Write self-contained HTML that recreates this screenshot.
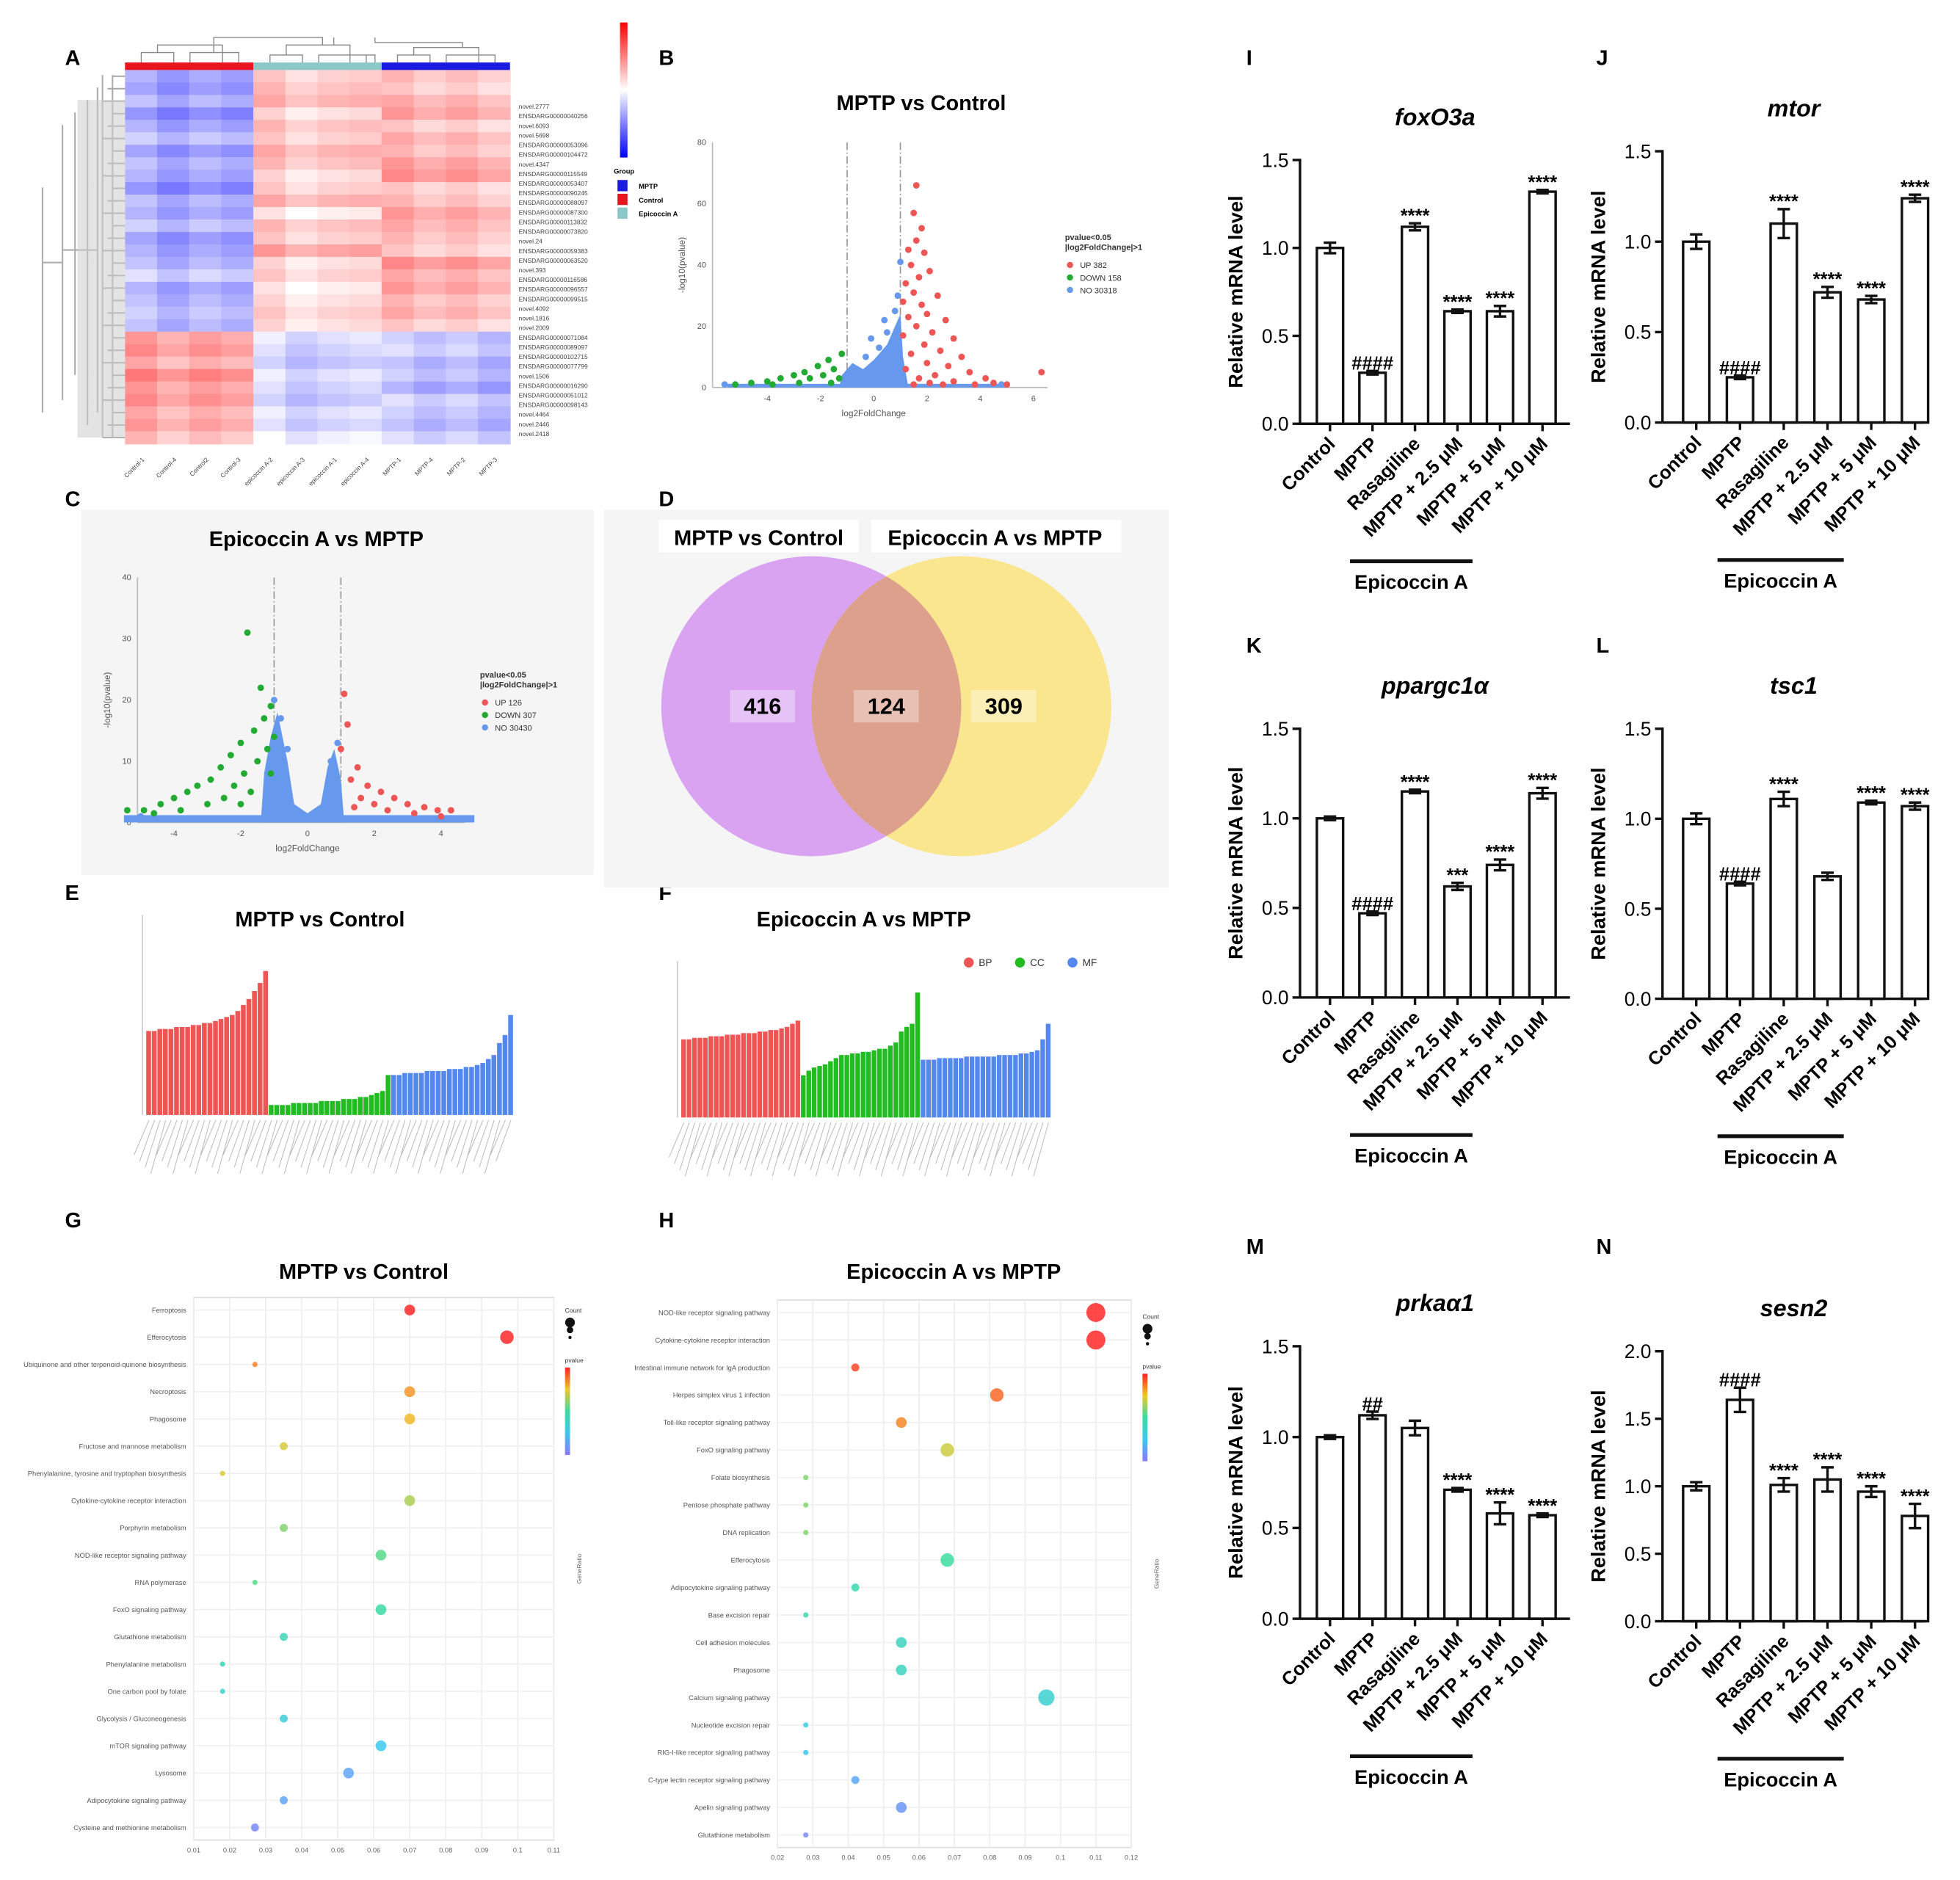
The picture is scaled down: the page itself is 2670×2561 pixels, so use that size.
<!DOCTYPE html>
<html><head><meta charset="utf-8"><style>
html,body{margin:0;padding:0;background:#fff}
svg{display:block;font-family:"Liberation Sans",Arial,sans-serif}
</style></head><body>
<svg id="fig" width="2670" height="2561" viewBox="0 0 1568 1504" preserveAspectRatio="none" xmlns="http://www.w3.org/2000/svg"></svg>
<script>
// ---------- bar chart data ----------
const barCats = ["Control","MPTP","Rasagiline","MPTP + 2.5 μM","MPTP + 5 μM","MPTP + 10 μM"];
const foxVals = [1.0,0.29,1.12,0.64,0.64,1.32];
const foxErr = [0.03,0.01,0.02,0.01,0.03,0.01];
const foxSig = ["","####","****","****","****","****"];
const mtorVals = [1.0,0.25,1.10,0.72,0.68,1.24];
const mtorErr = [0.04,0.01,0.08,0.03,0.02,0.02];
const mtorSig = ["","####","****","****","****","****"];
const pparVals = [1.0,0.47,1.15,0.62,0.74,1.14];
const pparErr = [0.01,0.01,0.01,0.02,0.03,0.03];
const pparSig = ["","####","****","***","****","****"];
const tscVals = [1.0,0.64,1.11,0.68,1.09,1.07];
const tscErr = [0.03,0.01,0.04,0.02,0.01,0.02];
const tscSig = ["","####","****","","****","****"];
const prkVals = [1.0,1.12,1.05,0.71,0.58,0.57];
const prkErr = [0.01,0.02,0.04,0.01,0.06,0.01];
const prkSig = ["","##","","****","****","****"];
const sesVals = [1.0,1.64,1.01,1.05,0.96,0.78];
const sesErr = [0.03,0.09,0.05,0.09,0.04,0.09];
const sesSig = ["","####","****","****","****","****"];
const ticks15 = ["0.0","0.5","1.0","1.5"];
const ticks20 = ["0.0","0.5","1.0","1.5","2.0"];

// ---------- volcano data ----------
const bUp = [[1.6,66],[1.5,57],[1.8,52],[1.6,48],[1.3,45],[1.9,44],[1.4,40],[2.1,38],[1.7,36],[1.2,34],[1.5,31],[2.4,30],[1.1,28],[1.8,27],[2.0,24],[1.3,23],[2.7,22],[1.6,20],[2.2,18],[1.1,17],[3.0,16],[1.9,14],[2.5,12],[1.4,11],[3.3,10],[2.0,8],[2.8,7],[1.2,6],[3.6,5],[2.3,4],[4.2,3],[1.7,3],[3.0,2],[4.5,1.5],[2.6,1],[1.5,1],[5.0,1],[6.3,5],[3.8,1],[2.1,1.5]];
const bDown = [[-1.2,11],[-1.7,9],[-2.1,7],[-1.5,6],[-2.6,5],[-3.0,4],[-1.9,4],[-3.5,3],[-2.4,3],[-4.0,2],[-1.3,3],[-4.6,1.5],[-2.8,1.5],[-1.6,1.5],[-3.8,1],[-5.2,1]];
const bNo = [[-5.6,1],[-0.1,16],[0.4,22],[0.8,25],[0.5,18],[-0.3,10],[0.2,13],[0.9,30],[4.8,1],[1.0,41]];
const cUp = [[1.1,21],[1.2,16],[1.0,12],[1.5,9],[1.3,7],[1.8,6],[2.2,5],[1.6,4],[2.6,4],[3.0,3],[2.0,3],[3.5,2.5],[3.9,2],[4.3,2],[2.4,2],[1.4,2.5],[3.2,1.5],[4.0,1]];
const cDown = [[-1.8,31],[-1.4,22],[-1.1,19],[-1.3,17],[-1.6,15],[-1.0,14],[-2.0,13],[-1.2,12],[-2.3,11],[-1.5,10],[-2.6,9],[-1.9,8],[-2.9,7],[-1.1,8],[-3.3,6],[-2.2,6],[-3.6,5],[-2.5,4],[-4.0,4],[-1.7,5],[-4.4,3],[-3.0,3],[-4.9,2],[-3.8,2],[-5.4,2],[-2.0,3],[-4.6,1.5]];
const cNo = [[-1.0,20],[-0.8,17],[0.9,13],[-5.0,1],[-0.6,12],[0.7,10]];

// ---------- GO bar data ----------
const eBP = [0.42,0.42,0.43,0.43,0.43,0.44,0.44,0.44,0.45,0.45,0.46,0.46,0.47,0.48,0.49,0.5,0.52,0.55,0.58,0.62,0.66,0.72];
const eCC = [0.05,0.05,0.05,0.05,0.06,0.06,0.06,0.06,0.06,0.07,0.07,0.07,0.07,0.08,0.08,0.08,0.09,0.09,0.1,0.11,0.12,0.2];
const eMF = [0.2,0.2,0.21,0.21,0.21,0.21,0.22,0.22,0.22,0.22,0.23,0.23,0.23,0.24,0.24,0.25,0.26,0.28,0.3,0.36,0.4,0.5];
const fBP = [0.5,0.5,0.51,0.51,0.51,0.52,0.52,0.52,0.53,0.53,0.53,0.54,0.54,0.54,0.55,0.55,0.56,0.56,0.57,0.58,0.6,0.62];
const fCC = [0.27,0.3,0.32,0.33,0.34,0.36,0.38,0.4,0.4,0.41,0.41,0.42,0.42,0.43,0.44,0.44,0.46,0.48,0.55,0.58,0.6,0.8];
const fMF = [0.37,0.37,0.37,0.38,0.38,0.38,0.38,0.38,0.39,0.39,0.39,0.39,0.39,0.39,0.4,0.4,0.4,0.4,0.41,0.41,0.42,0.43,0.5,0.6];

// ---------- KEGG dot data ----------
const gPaths = ["Ferroptosis","Efferocytosis","Ubiquinone and other terpenoid-quinone biosynthesis","Necroptosis","Phagosome","Fructose and mannose metabolism","Phenylalanine, tyrosine and tryptophan biosynthesis","Cytokine-cytokine receptor interaction","Porphyrin metabolism","NOD-like receptor signaling pathway","RNA polymerase","FoxO signaling pathway","Glutathione metabolism","Phenylalanine metabolism","One carbon pool by folate","Glycolysis / Gluconeogenesis","mTOR signaling pathway","Lysosome","Adipocytokine signaling pathway","Cysteine and methionine metabolism"];
const gRatio = [0.07,0.097,0.027,0.07,0.07,0.035,0.018,0.07,0.035,0.062,0.027,0.062,0.035,0.018,0.018,0.035,0.062,0.053,0.035,0.027];
const gCount = [3,4,1,3,3,2,1,3,2,3,1,3,2,1,1,2,3,3,2,2];
const gP = [0.0,0.0,0.005,0.006,0.008,0.01,0.01,0.012,0.014,0.016,0.016,0.018,0.02,0.02,0.022,0.024,0.026,0.03,0.03,0.033];
const hPaths = ["NOD-like receptor signaling pathway","Cytokine-cytokine receptor interaction","Intestinal immune network for IgA production","Herpes simplex virus 1 infection","Toll-like receptor signaling pathway","FoxO signaling pathway","Folate biosynthesis","Pentose phosphate pathway","DNA replication","Efferocytosis","Adipocytokine signaling pathway","Base excision repair","Cell adhesion molecules","Phagosome","Calcium signaling pathway","Nucleotide excision repair","RIG-I-like receptor signaling pathway","C-type lectin receptor signaling pathway","Apelin signaling pathway","Glutathione metabolism"];
const hRatio = [0.11,0.11,0.042,0.082,0.055,0.068,0.028,0.028,0.028,0.068,0.042,0.028,0.055,0.055,0.096,0.028,0.028,0.042,0.055,0.028];
const hCount = [6,6,2,4,3,4,1,1,1,4,2,1,3,3,5,1,1,2,3,1];
const hP = [0.0,0.0,0.01,0.02,0.03,0.06,0.08,0.08,0.08,0.1,0.11,0.11,0.12,0.12,0.13,0.14,0.15,0.17,0.18,0.19];

// ---------- heatmap data ----------
const hmCtrl = [-0.6,-0.7,-0.5,-0.8,-0.6,-0.4,-0.7,-0.5,-0.6,-0.8,-0.5,-0.6,-0.4,-0.7,-0.6,-0.5,-0.3,-0.6,-0.5,-0.4,-0.5,0.6,0.7,0.5,0.8,0.6,0.7,0.5,0.6,0.4];
const hmEpi = [0.3,0.4,0.5,0.2,0.4,0.3,0.5,0.4,0.2,0.3,0.5,0.1,0.4,0.3,0.6,0.2,0.3,0.1,0.2,0.3,0.2,-0.2,-0.3,-0.4,-0.2,-0.3,-0.4,-0.2,-0.3,-0.1];
const hmMptp = [0.4,0.3,0.5,0.6,0.3,0.5,0.4,0.6,0.7,0.3,0.4,0.6,0.5,0.4,0.3,0.7,0.5,0.6,0.4,0.5,0.3,-0.4,-0.3,-0.5,-0.4,-0.6,-0.3,-0.4,-0.5,-0.3];
const hmColJitter = [0.1,-0.1,0.05,-0.05,0.1,-0.1,0.0,0.05,0.1,-0.05,0.05,-0.1];
const hmColNames = ["Control-1","Control-4","Control2","Control-3","epicoccin A-2","epicoccin A-3","epicoccin A-1","epicoccin A-4","MPTP-1","MPTP-4","MPTP-2","MPTP-3"];
const hmRowLabels = ["novel.2777","ENSDARG00000040256","novel.6093","novel.5698","ENSDARG00000053096","ENSDARG00000104472","novel.4347","ENSDARG00000115549","ENSDARG00000053407","ENSDARG00000090245","ENSDARG00000088097","ENSDARG00000087300","ENSDARG00000113832","ENSDARG00000073820","novel.24","ENSDARG00000059383","ENSDARG00000063520","novel.393","ENSDARG00000116586","ENSDARG00000096557","ENSDARG00000099515","novel.4092","novel.1816","novel.2009","ENSDARG00000071084","ENSDARG00000089097","ENSDARG00000102715","ENSDARG00000077799","novel.1506","ENSDARG00000016290","ENSDARG00000051012","ENSDARG00000098143","novel.4464","novel.2446","novel.2418"];

const NS = "http://www.w3.org/2000/svg";
const svg = document.getElementById('fig');
function mk(tag, attrs, parent) {
  const el = document.createElementNS(NS, tag);
  for (const k in attrs) el.setAttribute(k, attrs[k]);
  (parent || svg).appendChild(el);
  return el;
}
function txt(s, attrs, parent) { const t = mk('text', attrs, parent); t.textContent = s; return t; }

// panel letters
const letters = [["A",52,52],["B",527,52],["C",52,405],["D",527,405],["E",52,720],["F",527,720],["G",52,982],["H",527,982],["I",997,52],["J",1277,52],["K",997,522],["L",1277,522],["M",997,1003],["N",1277,1003]];
letters.forEach(l => {
  const el = txt(l[0], {x:l[1], y:l[2], 'font-size':17, 'font-weight':'bold'});
  
  
});

// ---------- bar charts ----------
function barChart(cfg) {
  const g = mk('g', {});
  
  
  const yScale = v => cfg.y0 - (v / cfg.maxV) * (cfg.y0 - cfg.yTop);
  const xc = i => cfg.cx0 + i * cfg.dx;
  const title = txt(cfg.title, {x:(cfg.ox + cfg.xEnd)/2, y:cfg.yTop - 28, 'text-anchor':'middle', 'font-size':19, 'font-weight':'bold', 'font-style':'italic'}, g);
  
  
  const yl = txt("Relative mRNA level", {x:0, y:0, transform:`translate(${cfg.ox-46},${(cfg.y0+cfg.yTop)/2}) rotate(-90)`, 'text-anchor':'middle', 'font-size':16, 'font-weight':'bold'}, g);
  
  
  cfg.ticks.forEach((t, i) => {
    const y = yScale(parseFloat(t));
    mk('line', {x1:cfg.ox-6, x2:cfg.ox, y1:y, y2:y, stroke:'#111', 'stroke-width':2}, g);
    const tl = txt(t, {x:cfg.ox-9, y:y+5.5, 'text-anchor':'end', 'font-size':15.5}, g);
    
    
  });
  const ya = mk('line', {x1:cfg.ox, x2:cfg.ox, y1:cfg.yTop-1, y2:cfg.y0, stroke:'#111', 'stroke-width':2}, g);
  
  
  cfg.vals.forEach((v, i) => {
    const x = xc(i), y = yScale(v), w = 21;
    const b = mk('rect', {x:x-w/2, y:y, width:w, height:cfg.y0-y, fill:'#fff', stroke:'#111', 'stroke-width':2}, g);
    
    
    const e = cfg.err[i];
    const yh = yScale(v + e), ylo = yScale(v - e);
    const eb = mk('path', {d:`M${x},${yh}V${ylo}M${x-5},${yh}H${x+5}M${x-5},${ylo}H${x+5}`, stroke:'#111', 'stroke-width':2, fill:'none'}, g);
    
    
    if (cfg.sig[i]) {
      const s = txt(cfg.sig[i], {x:x, y:yh - 1, 'text-anchor':'middle', 'font-size':15, 'font-weight':'bold'}, g);
      
      
    }
    mk('line', {x1:x, x2:x, y1:cfg.y0, y2:cfg.y0+6, stroke:'#111', 'stroke-width':2}, g);
    const xl = txt(barCats[i], {x:0, y:0, transform:`translate(${x+5},${cfg.y0+17}) rotate(-45)`, 'text-anchor':'end', 'font-size':15, 'font-weight':'bold'}, g);
    
    
  });
  const xa = mk('line', {x1:cfg.ox, x2:cfg.xEnd, y1:cfg.y0, y2:cfg.y0, stroke:'#111', 'stroke-width':2}, g);
  
  
  const br = mk('line', {x1:xc(1)-18, x2:xc(4)-22, y1:cfg.y0+110, y2:cfg.y0+110, stroke:'#111', 'stroke-width':3}, g);
  
  
  const bt = txt("Epicoccin A", {x:(xc(1)+xc(4))/2 - 20, y:cfg.y0+132, 'text-anchor':'middle', 'font-size':16, 'font-weight':'bold'}, g);
  
  
}
barChart({name:'chart-foxo3a', title:'foxO3a', ox:1040, xEnd:1256, y0:339, yTop:128, maxV:1.5, ticks:ticks15, cx0:1064, dx:34, vals:foxVals, err:foxErr, sig:foxSig});
barChart({name:'chart-mtor', title:'mtor', ox:1330, xEnd:1540, y0:338, yTop:121, maxV:1.5, ticks:ticks15, cx0:1357, dx:35, vals:mtorVals, err:mtorErr, sig:mtorSig});
barChart({name:'chart-ppargc1a', title:'ppargc1α', ox:1040, xEnd:1256, y0:798, yTop:583, maxV:1.5, ticks:ticks15, cx0:1064, dx:34, vals:pparVals, err:pparErr, sig:pparSig});
barChart({name:'chart-tsc1', title:'tsc1', ox:1330, xEnd:1540, y0:799, yTop:583, maxV:1.5, ticks:ticks15, cx0:1357, dx:35, vals:tscVals, err:tscErr, sig:tscSig});
barChart({name:'chart-prkaa1', title:'prkaα1', ox:1040, xEnd:1256, y0:1295, yTop:1077, maxV:1.5, ticks:ticks15, cx0:1064, dx:34, vals:prkVals, err:prkErr, sig:prkSig});
barChart({name:'chart-sesn2', title:'sesn2', ox:1330, xEnd:1540, y0:1297, yTop:1081, maxV:2.0, ticks:ticks20, cx0:1357, dx:35, vals:sesVals, err:sesErr, sig:sesSig});

// ---------- heatmap A ----------
(function(){
  const g = mk('g', {});
  
  
  const x0 = 100, y0 = 56, w = 308, h = 299, nC = 12, nR = hmCtrl.length;
  const cw = w / nC, rh = h / nR;
  function col(v) {
    v = Math.max(-1, Math.min(1, v));
    if (v >= 0) { const t = v; return `rgb(255,${Math.round(255 - 150*t)},${Math.round(255 - 150*t)})`; }
    const t = -v; return `rgb(${Math.round(255 - 150*t)},${Math.round(255 - 150*t)},255)`;
  }
  for (let r = 0; r < nR; r++) {
    for (let c = 0; c < nC; c++) {
      const base = c < 4 ? hmCtrl[r] : (c < 8 ? hmEpi[r] : hmMptp[r]);
      const cell = mk('rect', {x:x0 + c*cw, y:y0 + r*rh, width:cw + 0.5, height:rh + 0.5, fill:col(base + hmColJitter[c])}, g);
      
      
    }
  }
  const groupCols = ['#e8141e', '#8cc8c8', '#1a1ae0'];
  groupCols.forEach((c, i) => {
    const gb = mk('rect', {x:x0 + i*w/3, y:50, width:w/3, height:6, fill:c}, g);
    
    
  });
  const dt = mk('path', {d:'M113,50V42H139V50M126,42V36H178V50M152,50V42H191V50M171,42V30H258V36M216,50V44H242V50M229,44V36H280V50M255,50V44H293V50M267,36V30M318,50V44H344V50M331,44V38H383V50M357,50V44H396V50M370,38V34H300V30M300,50V44H280', stroke:'#888', fill:'none', 'stroke-width':0.8}, g);
  
  
  let dp = '';
  for (let r = 0; r < nR; r++) {
    const y = y0 + (r + 0.5) * rh;
    dp += `M100,${y}H${90 - (r%3)*4}`;
  }
  dp += 'M78,70V330M78,200H50M50,100V320M50,210H34M34,150V330';
  const dl = mk('path', {d:dp + 'M90,60V350M82,60V350M70,80V340M60,90V300', stroke:'#aaa', fill:'none', 'stroke-width':1.2}, g);
  
  
  mk('rect', {x:62, y:80, width:38, height:270, fill:'#ccc', opacity:0.55}, g);
  hmRowLabels.forEach((s, i) => {
    const t = txt(s, {x:415, y:87 + i*7.7, 'font-size':5, fill:'#444'}, g);
    
    
  });
  hmColNames.forEach((s, i) => {
    const t = txt(s, {x:0, y:0, transform:`translate(${x0 + (i+0.5)*cw + 3},${368}) rotate(-45)`, 'text-anchor':'end', 'font-size':5, fill:'#444'}, g);
    
    
  });
  const defs = mk('defs', {});
  const lg = mk('linearGradient', {id:'hmgrad', x1:0, y1:0, x2:0, y2:1}, defs);
  mk('stop', {offset:'0', 'stop-color':'#ff0000'}, lg);
  mk('stop', {offset:'0.5', 'stop-color':'#ffffff'}, lg);
  mk('stop', {offset:'1', 'stop-color':'#0000ff'}, lg);
  const cb = mk('rect', {x:496, y:18, width:6, height:108, fill:'url(#hmgrad)'}, g);
  
  
  txt('Group', {x:491, y:139, 'font-size':5.5, 'font-weight':'bold'}, g);
  [['MPTP','#1a1ae0'],['Control','#e8141e'],['Epicoccin A','#8cc8c8']].forEach((l, i) => {
    const r = mk('rect', {x:494, y:144 + i*11, width:8, height:9, fill:l[1]}, g);
    
    
    txt(l[0], {x:511, y:151 + i*11, 'font-size':5.5, 'font-weight':'bold'}, g);
  });
})();

// ---------- volcano plots ----------
function volcano(cfg) {
  const g = mk('g', {});
  
  
  const X = v => cfg.xz + v * cfg.xs, Y = v => cfg.y0 - v * cfg.ys;
  const t = txt(cfg.title, {x:cfg.tx, y:cfg.ty, 'text-anchor':'middle', 'font-size':17, 'font-weight':'bold'}, g);
  
  
  mk('line', {x1:cfg.xl, x2:cfg.xr, y1:cfg.y0, y2:cfg.y0, stroke:'#bbb'}, g);
  mk('line', {x1:cfg.xl, x2:cfg.xl, y1:Y(cfg.ymax), y2:cfg.y0, stroke:'#bbb'}, g);
  cfg.xt.forEach(v => txt(String(v), {x:X(v), y:cfg.y0+11, 'text-anchor':'middle', 'font-size':6.5, fill:'#555'}, g));
  cfg.yt.forEach(v => txt(String(v), {x:cfg.xl-5, y:Y(v)+2, 'text-anchor':'end', 'font-size':6.5, fill:'#555'}, g));
  txt('log2FoldChange', {x:X(0), y:cfg.y0+23, 'text-anchor':'middle', 'font-size':7, fill:'#555'}, g);
  txt('-log10(pvalue)', {x:0, y:0, transform:`translate(${cfg.xl-22},${Y(cfg.ymax/2)}) rotate(-90)`, 'text-anchor':'middle', 'font-size':7, fill:'#555'}, g);
  [-1, 1].forEach(v => mk('line', {x1:X(v), x2:X(v), y1:Y(cfg.ymax), y2:cfg.y0, stroke:'#999', 'stroke-dasharray':'6,2,1,2'}, g));
  const cl = mk('path', {d:cfg.cloud.map((p,i) => (i?'L':'M') + X(p[0]) + ',' + Y(p[1])).join('') + 'Z', fill:'#6699ee'}, g);
  
  
  mk('rect', {x:X(-5.5), y:Y(1.2), width:X(5)-X(-5.5), height:Y(0)-Y(1.2), fill:'#6699ee'}, g);
  [[cfg.no,'#6699ee','point-no'],[cfg.down,'#22aa33','point-down'],[cfg.up,'#ee5555','point-up']].forEach(s => {
    s[0].forEach(p => {
      const c = mk('circle', {cx:X(p[0]), cy:Y(p[1]), r:2.6, fill:s[1]}, g);
      
      
    });
  });
  txt('pvalue<0.05', {x:cfg.lx, y:cfg.ly, 'font-size':6.5, 'font-weight':'bold', fill:'#333'}, g);
  txt('|log2FoldChange|>1', {x:cfg.lx, y:cfg.ly+8, 'font-size':6.5, 'font-weight':'bold', fill:'#333'}, g);
  cfg.leg.forEach((l, i) => {
    const c = mk('circle', {cx:cfg.lx+4, cy:cfg.ly+20+i*10, r:2.5, fill:l[1]}, g);
    
    
    txt(l[0], {x:cfg.lx+12, y:cfg.ly+22.5+i*10, 'font-size':6.5, fill:'#333'}, g);
  });
}
mk('rect', {x:65, y:408, width:410, height:292, fill:'#f5f5f5'});
mk('rect', {x:483, y:408, width:452, height:302, fill:'#f5f5f5'});
volcano({name:'volcano-mptp-vs-control', title:'MPTP vs Control', tx:737, ty:88, xz:699, xs:21.3, y0:310, ys:2.45, xl:570, xr:838, ymax:80, xt:[-4,-2,0,2,4,6], yt:[0,20,40,60,80],
  cloud:[[-1.3,0],[-1.2,4],[-0.8,8],[-0.4,6],[0,9],[0.5,14],[0.8,20],[1.0,24],[1.1,10],[1.3,0]], up:bUp, down:bDown, no:bNo, lx:852, ly:192,
  leg:[['UP 382','#ee5555'],['DOWN 158','#22aa33'],['NO 30318','#6699ee']]});
volcano({name:'volcano-epicoccin-vs-mptp', title:'Epicoccin A vs MPTP', tx:253, ty:437, xz:246, xs:26.7, y0:658, ys:4.9, xl:110, xr:372, ymax:40, xt:[-4,-2,0,2,4], yt:[0,10,20,30,40],
  cloud:[[-1.4,0],[-1.3,8],[-1.1,14],[-0.9,18],[-0.6,10],[-0.4,3],[0,1.5],[0.4,3],[0.6,9],[0.8,12],[1.0,7],[1.1,0]], up:cUp, down:cDown, no:cNo, lx:384, ly:542,
  leg:[['UP 126','#ee5555'],['DOWN 307','#22aa33'],['NO 30430','#6699ee']]});

// ---------- Venn D ----------
(function(){
  const g = mk('g', {});
  
  
  const a = mk('circle', {cx:649, cy:565, r:120, fill:'#d9a3f2'}, g);
  
  
  const b = mk('circle', {cx:769, cy:565, r:120, fill:'#f9e68e'}, g);
  
  
  const cp = mk('clipPath', {id:'vclip'}, g);
  mk('circle', {cx:649, cy:565, r:120}, cp);
  const ov = mk('circle', {cx:769, cy:565, r:120, fill:'#dca08c', 'clip-path':'url(#vclip)'}, g);
  
  
  [['416',610],['124',709],['309',803]].forEach(n => {
    mk('rect', {x:n[1]-26, y:552, width:52, height:26, fill:'#fff', opacity:0.35}, g);
    const t = txt(n[0], {x:n[1], y:571, 'text-anchor':'middle', 'font-size':18, 'font-weight':'bold'}, g);
    
    
  });
  mk('rect', {x:527, y:416, width:160, height:26, fill:'#fff'}, g);
  mk('rect', {x:697, y:416, width:200, height:26, fill:'#fff'}, g);
  const t1 = txt('MPTP vs Control', {x:607, y:436, 'text-anchor':'middle', 'font-size':17, 'font-weight':'bold'}, g);
  
  
  const t2 = txt('Epicoccin A vs MPTP', {x:796, y:436, 'text-anchor':'middle', 'font-size':17, 'font-weight':'bold'}, g);
  
  
})();

// ---------- GO bars E/F ----------
function goBars(cfg) {
  const g = mk('g', {});
  
  
  const t = txt(cfg.title, {x:cfg.tx, y:cfg.ty, 'text-anchor':'middle', 'font-size':17, 'font-weight':'bold'}, g);
  
  
  mk('line', {x1:cfg.x0-3, x2:cfg.x0-3, y1:cfg.y0-cfg.h, y2:cfg.y0, stroke:'#ccc'}, g);
  const all = [[cfg.bp,'#ee5555','bar-bp'],[cfg.cc,'#22bb22','bar-cc'],[cfg.mf,'#5588ee','bar-mf']];
  const n = cfg.bp.length + cfg.cc.length + cfg.mf.length;
  const bw = cfg.w / n;
  let k = 0;
  all.forEach(s => s[0].forEach(v => {
    const bh = v * cfg.h;
    const r = mk('rect', {x:cfg.x0 + k*bw, y:cfg.y0-bh, width:bw-0.6, height:bh, fill:s[1]}, g);
    
    
    mk('line', {x1:cfg.x0 + k*bw + bw/2, y1:cfg.y0+4, x2:cfg.x0 + k*bw + bw/2 - 12, y2:cfg.y0+4+28 + (k%4)*5, stroke:'#bbb', 'stroke-width':0.6}, g);
    k++;
  }));
}
goBars({name:'go-bars-mptp-vs-control', title:'MPTP vs Control', tx:256, ty:741, x0:117, y0:892, w:294, h:160, bp:eBP, cc:eCC, mf:eMF});
goBars({name:'go-bars-epicoccin-vs-mptp', title:'Epicoccin A vs MPTP', tx:691, ty:741, x0:545, y0:894, w:296, h:125, bp:fBP, cc:fCC, mf:fMF});
[['BP','#ee5555',775],['CC','#22bb22',816],['MF','#5588ee',858]].forEach(l => {
  const c = mk('circle', {cx:l[2], cy:770, r:4, fill:l[1]});
  
  
  txt(l[0], {x:l[2]+8, y:773, 'font-size':8, fill:'#333'});
});

// ---------- KEGG dot plots ----------
function pColor(p, pmax) {
  const t = Math.min(1, p / pmax);
  const stops = [[255,40,40],[240,200,40],[60,220,160],[60,200,240],[140,120,255]];
  const s = t * (stops.length - 1), i = Math.min(stops.length - 2, Math.floor(s)), f = s - i;
  const c = stops[i].map((v, j) => Math.round(v + (stops[i+1][j] - v) * f));
  return `rgb(${c[0]},${c[1]},${c[2]})`;
}
function dotPlot(cfg) {
  const g = mk('g', {});
  
  
  const t = txt(cfg.title, {x:cfg.tx, y:cfg.ty, 'text-anchor':'middle', 'font-size':17, 'font-weight':'bold'}, g);
  
  
  mk('rect', {x:cfg.x0, y:cfg.y0, width:cfg.x1-cfg.x0, height:cfg.y1-cfg.y0, fill:'#fff', stroke:'#ddd'}, g);
  const X = v => cfg.x0 + (v - cfg.xmin) / (cfg.xmax - cfg.xmin) * (cfg.x1 - cfg.x0);
  const n = cfg.paths.length, dy = (cfg.y1 - cfg.y0 - 20) / (n - 1);
  cfg.xticks.forEach(v => {
    mk('line', {x1:X(v), x2:X(v), y1:cfg.y0, y2:cfg.y1, stroke:'#eee'}, g);
    txt(String(v), {x:X(v), y:cfg.y1+10, 'text-anchor':'middle', 'font-size':5.5, fill:'#666'}, g);
  });
  cfg.paths.forEach((p, i) => {
    const y = cfg.y0 + 10 + i * dy;
    mk('line', {x1:cfg.x0, x2:cfg.x1, y1:y, y2:y, stroke:'#f0f0f0'}, g);
    const l = txt(p, {x:cfg.x0-6, y:y+2, 'text-anchor':'end', 'font-size':5.5, fill:'#555'}, g);
    
    
    const c = mk('circle', {cx:X(cfg.ratio[i]), cy:y, r:1 + cfg.count[i]*1.1, fill:pColor(cfg.p[i], cfg.pmax), opacity:0.85}, g);
    
    
  });
  txt('Count', {x:cfg.lx, y:cfg.ly, 'font-size':5, fill:'#333'}, g);
  [3,2,1].forEach((s, i) => mk('circle', {cx:cfg.lx+4, cy:cfg.ly+8+i*6, r:s*1.3, fill:'#111'}, g));
  txt('pvalue', {x:cfg.lx, y:cfg.ly+40, 'font-size':5, fill:'#333'}, g);
  const id = 'pg' + cfg.name;
  const defs = mk('defs', {}, g);
  const lg = mk('linearGradient', {id:id, x1:0, y1:0, x2:0, y2:1}, defs);
  ['#ff2020','#f0c828','#3cdca0','#3cc8f0','#8c78ff'].forEach((c, i) => mk('stop', {offset:i/4, 'stop-color':c}, lg));
  const cb = mk('rect', {x:cfg.lx, y:cfg.ly+44, width:4, height:70, fill:`url(#${id})`}, g);
  
  
  txt('GeneRatio', {x:0, y:0, transform:`translate(${cfg.x1+22},${(cfg.y0+cfg.y1)/2}) rotate(-90)`, 'text-anchor':'middle', 'font-size':5, fill:'#666'}, g);
}
dotPlot({name:'kegg-mptp-vs-control', title:'MPTP vs Control', tx:291, ty:1023, x0:155, y0:1038, x1:443, y1:1472, xmin:0.01, xmax:0.11, xticks:[0.01,0.02,0.03,0.04,0.05,0.06,0.07,0.08,0.09,0.1,0.11], paths:gPaths, ratio:gRatio, count:gCount, p:gP, pmax:0.035, lx:452, ly:1050});
dotPlot({name:'kegg-epicoccin-vs-mptp', title:'Epicoccin A vs MPTP', tx:763, ty:1023, x0:622, y0:1040, x1:905, y1:1478, xmin:0.02, xmax:0.12, xticks:[0.02,0.03,0.04,0.05,0.06,0.07,0.08,0.09,0.1,0.11,0.12], paths:hPaths, ratio:hRatio, count:hCount, p:hP, pmax:0.2, lx:914, ly:1055});
</script>
</body></html>
